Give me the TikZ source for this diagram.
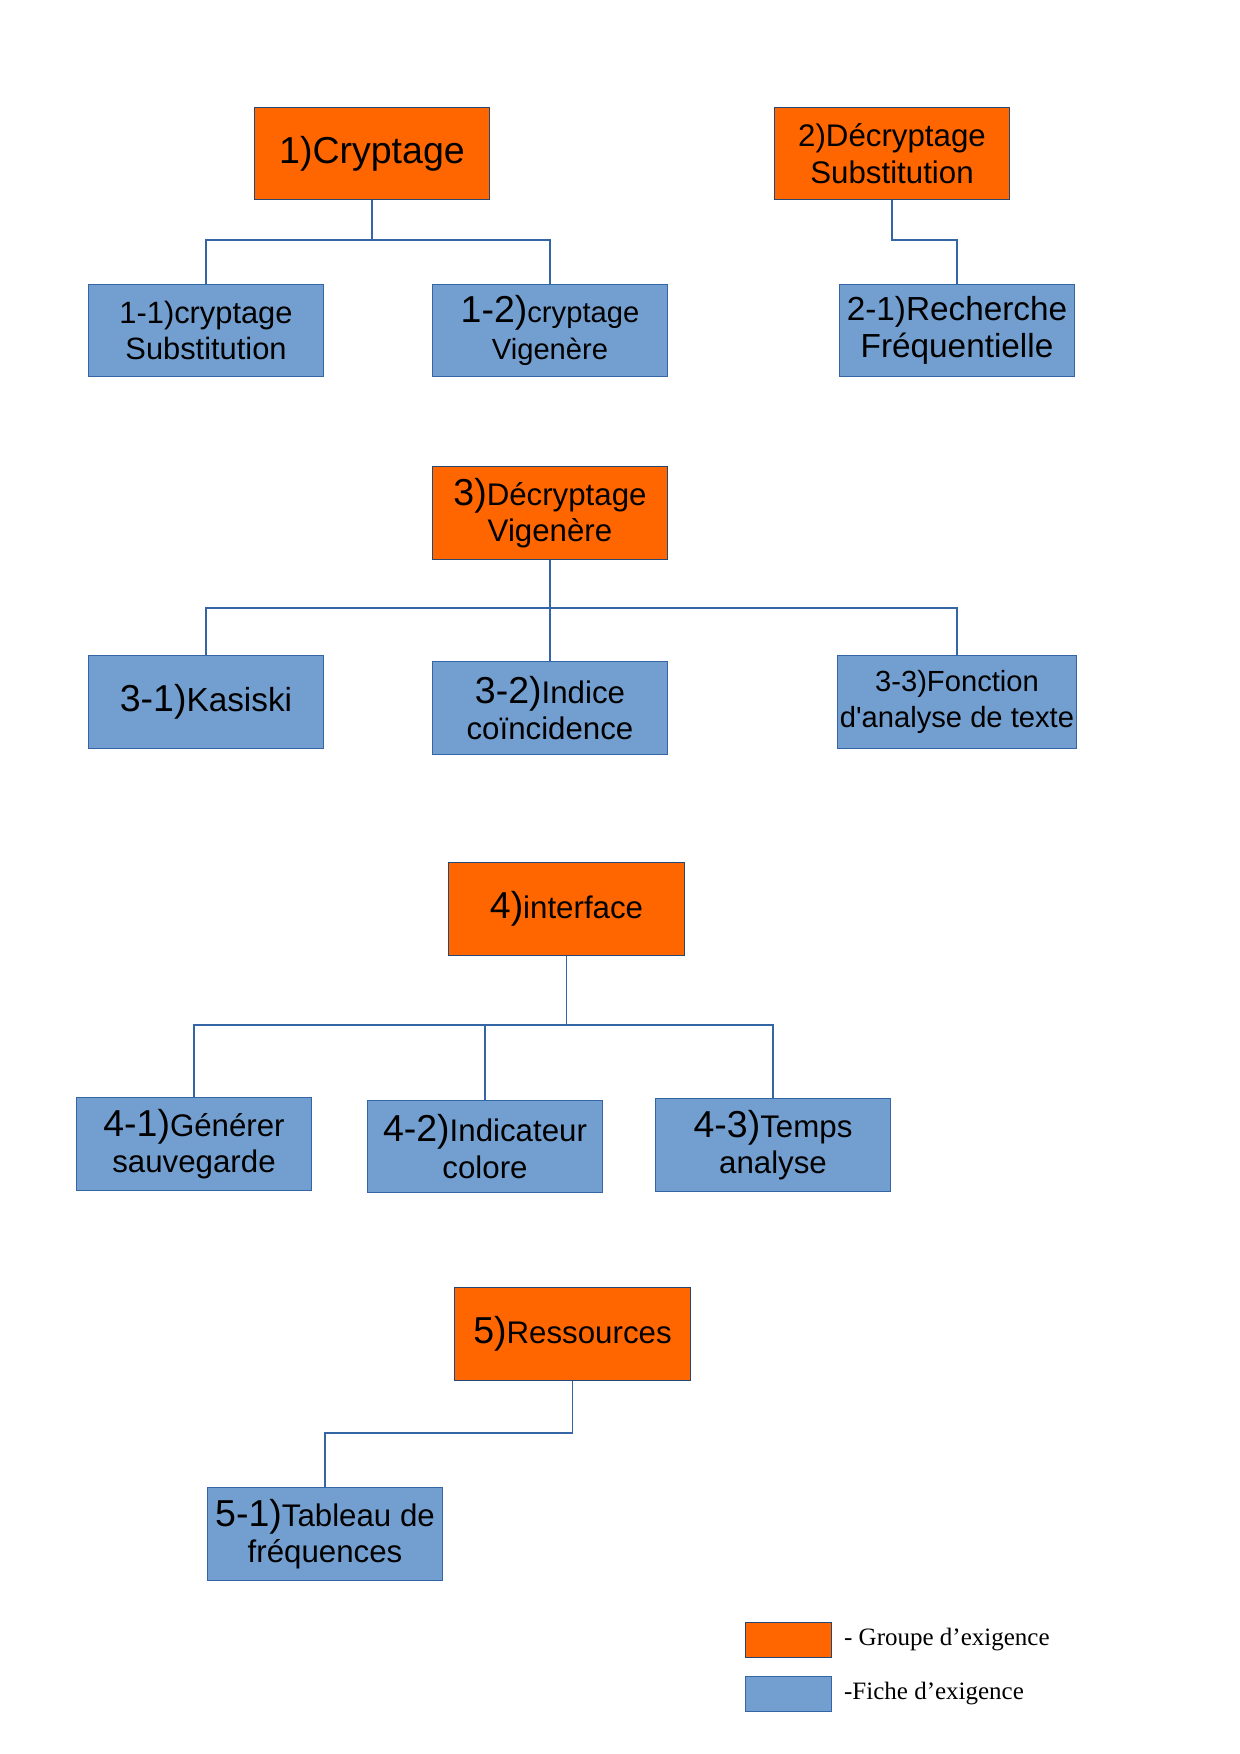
\documentclass[tikz,border=0pt]{standalone}
\usepackage{fontspec}
\setmainfont{Liberation Serif}
\setsansfont{Liberation Sans}
\usetikzlibrary{positioning}
\definecolor{grouporange}{HTML}{FF6600}
\definecolor{ficheblue}{HTML}{729FCF}
\definecolor{edgeblue}{HTML}{3465A4}
\newcommand{\reqnum}[1]{{\fontsize{18}{18}\selectfont #1}}
\tikzset{groupe/.style={draw=edgeblue!70!black,line width=0.5pt,fill=grouporange,minimum width=113pt,minimum height=44.5pt,align=center,inner sep=1pt,font=\sffamily\fontsize{15}{17.5}\selectfont},
         fiche/.style={draw=edgeblue,line width=0.5pt,fill=ficheblue,minimum width=113pt,minimum height=44.5pt,align=center,inner sep=1pt,font=\sffamily\fontsize{15}{17.5}\selectfont},
         lien/.style={draw=edgeblue,line width=0.5pt}}

\begin{document}
\begin{tikzpicture}[x=0.48pt,y=-0.48pt]
        \useasboundingbox (0,0) rectangle (1240,1754);

        \node[groupe](g1)at(372,153.5){\fontsize{18}{18}\selectfont 1)Cryptage};
        \node[fiche](f11)at(206,330.5){\fontsize{14.8}{17}\selectfont 1-1)cryptage\\\fontsize{14.8}{17}\selectfont Substitution};
        \node[fiche](f12)at(550,330.5){\reqnum{1-2)}{\fontsize{14}{17}\selectfont cryptage}\\\fontsize{14}{17}\selectfont Vigenère};
        \node[groupe](g2)at(892,153.5){2)Décryptage \\Substitution};
        \node[fiche](f21)at(957,330.5){\fontsize{16}{18}\selectfont 2-1)Recherche\\\fontsize{16}{18}\selectfont Fréquentielle};

        \node[groupe](g3)at(550,513){\reqnum{3)}Décryptage\\Vigenère};
        \node[fiche](f31)at(206,702){\reqnum{3-1)}{\fontsize{16}{18}\selectfont Kasiski}};
        \node[fiche](f32)at(550,708){\reqnum{3-2)}Indice\\ coïncidence};
        \node[fiche](f33)at(957,702){\fontsize{14}{17}\selectfont 3-3)Fonction\\\fontsize{14}{17}\selectfont d\textquotesingle analyse de texte};

        \node[groupe](g4)at(566.5,909){\reqnum{4)}interface};
        \node[fiche](f41)at(194,1144){\reqnum{4-1)}Générer\\ sauvegarde};
        \node[fiche](f42)at(485,1146.5){\reqnum{4-2)}Indicateur\\colore};
        \node[fiche](f43)at(773,1145){\reqnum{4-3)}Temps\\ analyse};

        \node[groupe](g5)at(572.5,1334){\reqnum{5)}Ressources};
        \node[fiche](f51)at(325,1534){\reqnum{5-1)}Tableau de\\fréquences};

        % branches
        \coordinate(b1)at(372,240);
        \coordinate(b2)at(892,240);
        \coordinate(b3)at(550,608);
        \coordinate(b4)at(566.5,1025);
        \coordinate(b5)at(572.5,1433);

        \draw[lien](g1.south)--(b1)-|(f11.north);
        \draw[lien](b1)-|(f12.north);
        \draw[lien](g2.south)--(b2)-|(f21.north);
        \draw[lien](g3.south)--(b3)-|(f31.north);
        \draw[lien](b3)--(f32.north);
        \draw[lien](b3)-|(f33.north);
        \draw[lien](g4.south)--(b4)-|(f41.north);
        \draw[lien](b4)-|(f42.north);
        \draw[lien](b4)-|(f43.north);
        \draw[lien](g5.south)--(b5)-|(f51.north);

        % legende
        \node[draw=edgeblue!70!black,line width=0.5pt,fill=grouporange,minimum width=41.5pt,minimum height=17pt,inner sep=0pt](lg)at(788.5,1640){};
        \node[draw=edgeblue,line width=0.5pt,fill=ficheblue,minimum width=41.5pt,minimum height=17pt,inner sep=0pt](lf)at(788.5,1694){};
        \node[right=5.5pt of lg,inner sep=0pt,font=\fontsize{12}{14}\selectfont](tg){- Groupe d’exigence};
        \node[right=5.5pt of lf,inner sep=0pt,font=\fontsize{12}{14}\selectfont](tf){-Fiche d’exigence};
    \end{tikzpicture}
\end{document}
